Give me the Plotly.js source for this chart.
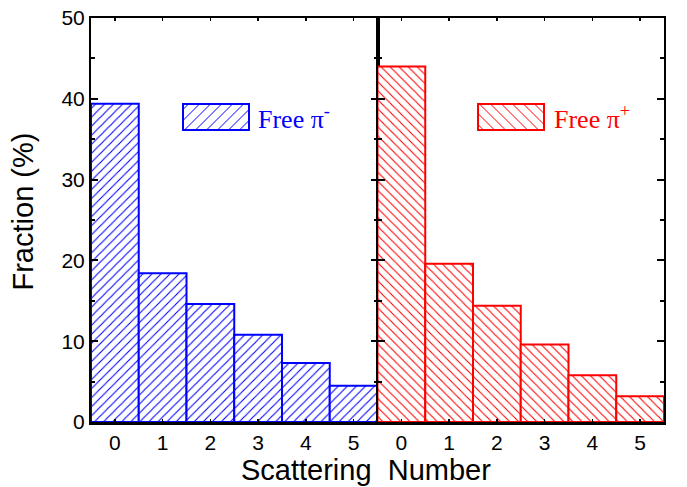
<!DOCTYPE html>
<html>
<head>
<meta charset="utf-8">
<script src="https://cdn.plot.ly/plotly-3.0.1.min.js"></script>
<style>html,body{margin:0;padding:0;background:#fff;}</style>
</head>
<body>
<div id="chart" style="width:687px;height:487px;"></div>
<script>
// ---- data ----
const scatteringNumber = [0, 1, 2, 3, 4, 5];
const tickLabels = ['0', '1', '2', '3', '4', '5'];
const fractionPiMinus = [39.4, 18.4, 14.6, 10.8, 7.3, 4.5];
const fractionPiPlus = [44.0, 19.6, 14.4, 9.6, 5.8, 3.2];
const seriesNames = ['Free \u03c0<sup>-</sup>', 'Free \u03c0<sup>+</sup>'];

// ---- geometry (pixels) ----
const W = 687, H = 487;
const M = {l: 91, r: 23, t: 18, b: 65};
const PW = W - M.l - M.r, PH = H - M.t - M.b;
const px2x = p => (p - M.l) / PW;
const px2y = p => (H - M.b - p) / PH;

const BLUE = '#0000ff', RED = '#ff0000';

const traces = [
  {
    type: 'bar', x: scatteringNumber, y: fractionPiMinus, xaxis: 'x', yaxis: 'y',
    width: 1, name: seriesNames[0], showlegend: false, hoverinfo: 'x+y',
    marker: {color: 'white', line: {color: BLUE, width: 2},
      pattern: {shape: '/', size: 6.4, solidity: 0.17, fgcolor: BLUE, bgcolor: 'white', fgopacity: 1, fillmode: 'replace'}}
  },
  {
    type: 'bar', x: scatteringNumber, y: fractionPiPlus, xaxis: 'x2', yaxis: 'y2',
    width: 1, name: seriesNames[1], showlegend: false, hoverinfo: 'x+y',
    marker: {color: 'white', line: {color: RED, width: 2},
      pattern: {shape: '\\', size: 6.4, solidity: 0.17, fgcolor: RED, bgcolor: 'white', fgopacity: 1, fillmode: 'replace'}}
  }
];

// legend patches drawn as shapes
function legendPatch(x0, y0, x1, y1, dir, color, step) {
  const shapes = [];
  shapes.push({type: 'rect', xref: 'paper', yref: 'paper',
    x0: px2x(x0), x1: px2x(x1), y0: px2y(y0), y1: px2y(y1),
    line: {color: color, width: 2}, fillcolor: 'white', layer: 'above'});
  if (dir === '/') {
    for (let c = x0 + y0 + step * 0.5; c < x1 + y1; c += step) {
      const xa = Math.max(x0, c - y1), xb = Math.min(x1, c - y0);
      if (xb - xa > 0.5) shapes.push({type: 'line', xref: 'paper', yref: 'paper',
        x0: px2x(xa), y0: px2y(c - xa), x1: px2x(xb), y1: px2y(c - xb),
        line: {color: color, width: 1}, layer: 'above'});
    }
  } else {
    for (let c = x0 - y1 + step * 0.5; c < x1 - y0; c += step) {
      const xa = Math.max(x0, c + y0), xb = Math.min(x1, c + y1);
      if (xb - xa > 0.5) shapes.push({type: 'line', xref: 'paper', yref: 'paper',
        x0: px2x(xa), y0: px2y(xa - c), x1: px2x(xb), y1: px2y(xb - c),
        line: {color: color, width: 1}, layer: 'above'});
    }
  }
  return shapes;
}

const shapes = [].concat(
  legendPatch(183, 104, 249, 130, '/', BLUE, 11),
  legendPatch(478, 104, 544, 130, '\\', RED, 11)
);

const tickFont = {family: 'Liberation Sans, Arial, sans-serif', size: 21, color: '#000'};
const titleFont = {family: 'Liberation Sans, Arial, sans-serif', size: 29, color: '#000'};

const xCommon = {
  range: [-0.5, 5.5], tickmode: 'array', tickvals: scatteringNumber, ticktext: tickLabels,
  ticks: 'inside', ticklen: 3, tickwidth: 1.5, tickcolor: '#000',
  showline: true, linecolor: '#000', linewidth: 2.5, mirror: 'allticks',
  showgrid: false, zeroline: false, tickfont: tickFont, fixedrange: true
};
const yCommon = {
  range: [0, 50], tickmode: 'linear', tick0: 0, dtick: 10,
  ticks: 'inside', ticklen: 7, tickwidth: 2, tickcolor: '#000',
  minor: {dtick: 5, ticks: 'inside', ticklen: 4, tickwidth: 2, tickcolor: '#000', showgrid: false},
  showline: true, linecolor: '#000', linewidth: 2, mirror: 'allticks',
  showgrid: false, zeroline: false, tickfont: tickFont, fixedrange: true
};

const layout = {
  width: W, height: H,
  margin: {l: M.l, r: M.r, t: M.t, b: M.b, pad: 0},
  paper_bgcolor: 'white', plot_bgcolor: 'white',
  showlegend: false, bargap: 0,
  xaxis: Object.assign({}, xCommon, {domain: [0, 0.5], anchor: 'y'}),
  xaxis2: Object.assign({}, xCommon, {domain: [0.5, 1], anchor: 'y2'}),
  yaxis: Object.assign({}, yCommon, {anchor: 'x'}),
  yaxis2: Object.assign({}, yCommon, {anchor: 'x2', showticklabels: false}),
  shapes: shapes,
  annotations: [
    {text: 'Fraction (%)', xref: 'paper', yref: 'paper', x: px2x(22.5), y: px2y(212),
     textangle: -90, showarrow: false, xanchor: 'center', yanchor: 'middle', font: titleFont},
    {text: 'Scattering\u00a0 Number', xref: 'paper', yref: 'paper', x: px2x(365.5), y: px2y(470),
     showarrow: false, xanchor: 'center', yanchor: 'middle', font: titleFont},
    {text: seriesNames[0], xref: 'paper', yref: 'paper', x: px2x(256), y: px2y(117),
     showarrow: false, xanchor: 'left', yanchor: 'middle',
     font: {family: 'Liberation Serif, Times New Roman, serif', size: 26, color: BLUE}},
    {text: seriesNames[1], xref: 'paper', yref: 'paper', x: px2x(552), y: px2y(117),
     showarrow: false, xanchor: 'left', yanchor: 'middle',
     font: {family: 'Liberation Serif, Times New Roman, serif', size: 26, color: RED}}
  ]
};

Plotly.newPlot('chart', traces, layout, {displayModeBar: false, staticPlot: true});
</script>
</body>
</html>
